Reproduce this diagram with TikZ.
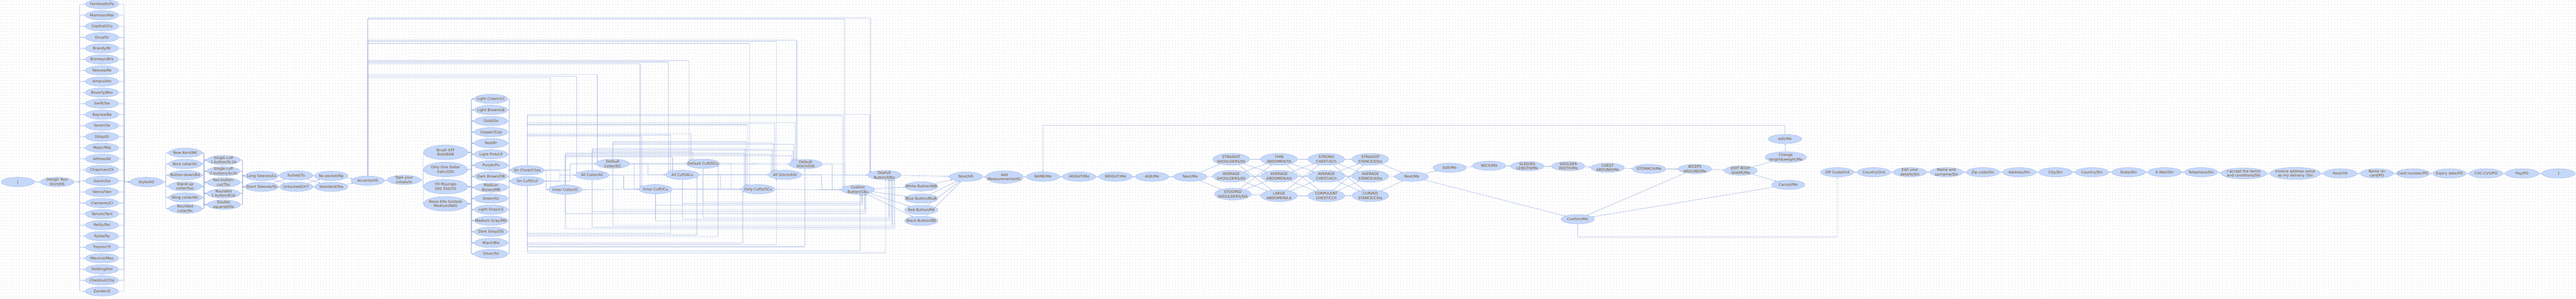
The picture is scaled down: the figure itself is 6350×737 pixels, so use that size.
\documentclass[tikz,border=0pt]{standalone}
\usepackage{fontspec}
\setmainfont{DejaVu Sans}
\usetikzlibrary{shapes.geometric,arrows.meta,calc,backgrounds}
\definecolor{nfill}{RGB}{198,216,250}
\definecolor{nborder}{RGB}{158,182,230}
\definecolor{ntext}{RGB}{122,78,20}
\definecolor{ecol}{RGB}{158,178,222}
\definecolor{dotc}{RGB}{205,205,205}
\newcommand\lb[1]{\smash{\makebox[0pt]{\raisebox{-3.3pt}{\begin{tabular}{@{}c@{}}#1\end{tabular}}}}}
\newcommand\TE[5]{%
  \draw[e] let \p1=(#1.center), \p2=(#4.center) in
    ({\x1+(#2)*1pt},{\y1+11.5pt*sqrt(1-((#2)/41)^2)})
    |- ({\x2+(#5)*1pt},{-(#3)*1pt})
    -- ({\x2+(#5)*1pt},{\y2+11.5pt*sqrt(1-((#5)/41)^2)});}
\newcommand\BE[5]{%
  \draw[e] let \p1=(#1.center), \p2=(#4.center) in
    ({\x1+(#2)*1pt},{\y1-11.5pt*sqrt(1-((#2)/41)^2)})
    |- ({\x2+(#5)*1pt},{-(#3)*1pt})
    -- ({\x2+(#5)*1pt},{\y2-11.5pt*sqrt(1-((#5)/41)^2)});}
\tikzset{
  st/.style={ellipse, draw=nborder, fill=nfill, line width=0.7pt, minimum width=82pt, minimum height=23pt, inner sep=0pt, text=ntext, font=\fontsize{9}{11}\selectfont},
  big/.style={st, minimum width=109pt, minimum height=36pt},
  mid/.style={st, minimum width=90pt, minimum height=29pt},
  e/.style={draw=ecol, line width=0.75pt, rounded corners=2pt, -{Stealth[length=4pt,width=3.4pt]}},
}
\begin{document}
\begin{tikzpicture}[x=1pt,y=-1pt]
\useasboundingbox (0,0) rectangle (6350,737);
\coordinate (top309) at (0,309);
\coordinate (bot585) at (0,585);
% ---------------- nodes ----------------
\node[st] (Start) at (44,449) {\lb{[}};
\node[st] (Design) at (141,449) {\lb{Design Your\\Shirt/HS}};
\foreach \t [count=\k from 0] in {Fernheath/Fe,Marmion/Mar,Copthall/Co,Orca/Or,Brandy/Br,Bronwyn/Bro,Reeves/Re,Amani/Am,Beverly/Bev,Swift/Sw,Baynes/Ba,Seren/Se,Dillip/Di,Major/Maj,Althea/Alt,Chapman/Ch,Gavin/Ga,Vance/Van,Clements/Cl,Tamzin/Tam,Reilly/Rei,Rylee/Ry,Traynor/Tr,Maurice/Mau,Holding/Hol,Chestnut/Che,Zander/Z}
  \node[st] (N\k) at (251.5,{10.3+27.26*\k}) {\lb{\t}};
\node[st] (Style) at (361,449) {\lb{Style/HS}};
\foreach \t [count=\k from 0] in {New Kent/NK,Kent collar/Kc,Button-down/Bd,{Stand-up\\collar/Suc},Wing collar/Wc,{Rounded\\collar/Rc}}
  \node[st] (C\k) at (456.5,{377+27.6*\k}) {\lb{\t}};
\foreach \t [count=\k from 0] in {{Single cuff\\1 button/Sc1b},{Single cuff\\2 buttons/Sc2b},{Two-button-\\cut/Tbc},{Rounded\\1 button/R1b},{Double\\squared/Ds}}
  \node[st] (K\k) at (551,{395+27.5*\k}) {\lb{\t}};
\node[st] (Ls) at (645,434) {\lb{Long Sleeves/Ls}};
\node[st] (Ss) at (645,461) {\lb{Short Sleeves/Ss}};
\node[st] (Tu) at (730,433) {\lb{Tucked/Tu}};
\node[st] (UnT) at (730,461) {\lb{Untucked/UnT}};
\node[st] (Np) at (816.6,434) {\lb{No pocket/Np}};
\node[st] (Sta) at (816.6,461) {\lb{Standard/Sta}};
\node[st] (Acc) at (906.5,446) {\lb{Accents/HS}};
\node[st] (TypeIn) at (996,444) {\lb{Type your\\initials/In}};
\foreach \t [count=\k from 0] in {{Brush ATF\\Bold/BAB},{Only One Dollar\\Italic/ODI},{YD Myungjo\\500 550/YD},{Neue Alte Grotesk\\Medium/NAG}}
  \node[big] (F\k) at (1098.5,{376+42.33*\k}) {\lb{\t}};
\foreach \t [count=\k from 0] in {Light Cream/LC,Light Brown/LB,Gold/Go,Copper/Cop,Red/Rr,Light Pink/LP,Purple/Pu,Dark Brown/DB,{Medium\\Brown/MB},Green/Gr,Light Gray/LG,Medium Gray/MG,Dark Gray/DG,Black/Bla,Silver/Sil}
  \node[st] (Col\k) at (1210.5,{244+27.33*\k}) {\lb{\t}};
\node[st] (OnChes) at (1300,420) {\lb{On Chest/Ches}};
\node[st] (OnCuf) at (1300,447) {\lb{On Cuff/Cuf}};
\node[st] (InColl) at (1393.5,468) {\lb{Inner Collar/IC}};
\node[st] (AllColl) at (1460,432) {\lb{All Collar/AC}};
\node[st] (DefColl) at (1510.5,404) {\lb{Default\\Collar/DC}};
\node[st] (InCuff) at (1616,467) {\lb{Inner Cuff/ICu}};
\node[st] (AllCuff) at (1682,431.5) {\lb{All Cuff/ACu}};
\node[st] (DefCuff) at (1733,404) {\lb{Default Cuff/DCu}};
\node[st] (OnlyCuffs) at (1869,467) {\lb{Only Cuffs/OCu}};
\node[st] (AllStitch) at (1935,431.5) {\lb{All Stitch/ASt}};
\node[st] (DefStitch) at (1986,405) {\lb{Default\\Stitch/DSt}};
\node[st] (CustBut) at (2115,468) {\lb{Custom\\Button/CBu}};
\node[st] (DefBut) at (2180,432) {\lb{Deafult\\Button/DBu}};
\node[st] (WB) at (2271,460) {\lb{White Button/WB}};
\node[st] (BluB) at (2271,490) {\lb{Blue Button/BluB}};
\node[st] (RB) at (2271,518) {\lb{Red Button/RB}};
\node[st] (BB) at (2271,545) {\lb{Black Button/BB}};
\node[st] (NextHS) at (2381,436) {\lb{Next/HS}};
\node[st, minimum width=93pt, minimum height=31pt] (AddMeas) at (2476,437) {\lb{Add\\Measurements/HC}};
\node[st] (NAME) at (2571,436) {\lb{NAME/Me}};
\node[st] (HEIGHT) at (2660,436) {\lb{HEIGHT/Me}};
\node[st] (WEIGHT) at (2750,436) {\lb{WEIGHT/Me}};
\node[st] (AGE) at (2840,436) {\lb{AGE/Me}};
\node[st] (NextMe) at (2934,436) {\lb{Next/Me}};
\node[mid] (SS) at (3035,393) {\lb{STRAIGHT\\SHOULDERS/SS}};
\node[mid] (AS) at (3035,435) {\lb{AVERAGE\\SHOULDERS/AS}};
\node[mid] (StS) at (3039,479) {\lb{STOOPED\\SHOULDERS/StS}};
\node[mid] (TA) at (3153,393) {\lb{THIN\\ABDOMEN/TA}};
\node[mid] (AA) at (3153,435) {\lb{AVERAGE\\ABDOMEN/AA}};
\node[mid] (LA) at (3153,483) {\lb{LARGE\\ABDOMEN/LA}};
\node[mid] (SCh) at (3269.5,393) {\lb{STRONG\\CHEST/SCh}};
\node[mid] (ACh) at (3269.5,435) {\lb{AVERAGE\\CHEST/ACh}};
\node[mid] (CCh) at (3269.5,483) {\lb{CORPULENT\\CHEST/CCh}};
\node[mid] (SSta) at (3378,393) {\lb{STRAIGHT\\STANCE/SSta}};
\node[mid] (ASta) at (3378,435) {\lb{AVERAGE\\STANCE/ASta}};
\node[mid] (CSta) at (3378,483) {\lb{CURVED\\STANCE/CSta}};
\node[st] (NextMeB) at (3480,436) {\lb{Next/Me}};
\node[st] (EditMe) at (3573.5,414) {\lb{Edit/Me}};
\node[st] (NECK) at (3671,409) {\lb{NECK/Me}};
\node[st] (SLEEVES) at (3765,410) {\lb{SLEEVES\\LENGTH/Me}};
\node[st] (SHOLDER) at (3866,410) {\lb{SHOLDER\\WIDTH/Me}};
\node[st] (CHESTA) at (3963,414) {\lb{CHEST\\AROUND/Me}};
\node[st] (STOMACH) at (4065,417) {\lb{STOMACH/Me}};
\node[st] (BICEPS) at (4178,417) {\lb{BICEPS\\AROUND/Me}};
\node[st] (EBS) at (4291,421) {\lb{EDIT BODY\\SHAPE/Me}};
\node[st, minimum width=102pt, minimum height=27pt] (ChangeHW) at (4402,388) {\lb{Change\\height\&weight/Me}};
\node[st] (editMe) at (4400,343) {\lb{edit/Me}};
\node[st] (Cancel) at (4408,456) {\lb{Cancel/Me}};
\node[st] (Confirm) at (3889,541) {\lb{Confirm/Me}};
\node[st] (ZIP) at (4529,425) {\lb{ZIP Code/Ord}};
\node[st] (CountryOrd) at (4619,425) {\lb{Country/Ord}};
\node[st] (EditDet) at (4708,425) {\lb{Edit your\\details/Shi}};
\node[st] (NameSur) at (4798,425) {\lb{Name and\\surname/Shi}};
\node[st] (ZipShi) at (4888,425) {\lb{Zip code/Shi}};
\node[st] (Address) at (4977.5,425) {\lb{Address/Shi}};
\node[st] (City) at (5067,425) {\lb{City/Shi}};
\node[st] (CountryShi) at (5157,425) {\lb{Country/Shi}};
\node[st] (State) at (5247,425) {\lb{State/Shi}};
\node[st] (EMail) at (5336,425) {\lb{E-Mail/Shi}};
\node[st] (Tel) at (5426,425) {\lb{Telephone/Shi}};
\node[st, minimum width=113pt, minimum height=27pt] (Accept) at (5531,428) {\lb{I accept the terms\\and conditions/Shi}};
\node[st, minimum width=124pt, minimum height=30pt] (Invoice) at (5658,428) {\lb{Invoice address same\\as my delivery /Shi}};
\node[st] (NextHSB) at (5769,428) {\lb{Next/HS}};
\node[st] (NameCard) at (5859,428) {\lb{Name on\\card/PO}};
\node[st] (CardNum) at (5948,428) {\lb{Card number/PO}};
\node[st] (Expiry) at (6038,428) {\lb{Expiry date/PO}};
\node[st] (CVC) at (6128,428) {\lb{CVC-CVV/PO}};
\node[st] (Pay) at (6217,428) {\lb{Pay/PO}};
\node[st] (End) at (6307,428) {\lb{]}};
% ---------------- background, grid and connectors ----------------
\begin{pgfonlayer}{background}
\fill[white] (0,0) rectangle (6350,737);
\foreach \r in {0,...,97}
  \draw[dotc, line width=1pt, dash pattern=on 1pt off 6.5pt] (2,{3.5+7.5*\r}) -- (6350,{3.5+7.5*\r});
\draw[e] (Start) -- (Design);
\foreach \k in {0,...,26} {
  \draw[e] (Design.east) -- ++(14,0) |- (N\k.west);
  \draw[e] (N\k.east) -- ++(13,0) |- (Style.west);
}
\foreach \k in {0,...,5} \draw[e] (Style.east) -- ++(6.5,0) |- (C\k.west);
\foreach \i in {0,...,5} \foreach \j in {0,...,4} \draw[e] (C\i.east) -- ++(5,0) |- (K\j.west);
\foreach \j in {0,...,4} {
  \draw[e] (K\j.east) -- ++(5.5,0) |- (Ls.west);
  \draw[e] (K\j.east) -- ++(5.5,0) |- (Ss.west);
}
\draw[e] (Ls) -- (Tu); \draw[e] (Ls) -- (UnT); \draw[e] (Ss) -- (Tu); \draw[e] (Ss) -- (UnT);
\draw[e] (Tu) -- (Np); \draw[e] (Tu) -- (Sta); \draw[e] (UnT) -- (Np); \draw[e] (UnT) -- (Sta);
\draw[e] (Np) -- (Acc); \draw[e] (Sta) -- (Acc);
\draw[e] (Acc) -- (TypeIn);
\foreach \k in {0,...,3} \draw[e] (TypeIn.east) -- ++(5.5,0) |- (F\k.west);
\foreach \i in {0,...,3} \foreach \j in {0,...,14} \draw[e] (F\i.east) -- ++(8.5,0) |- (Col\j.west);
\foreach \j in {0,...,14} {
  \draw[e] (Col\j.east) -- ++(3.5,0) |- (OnChes.west);
  \draw[e] (Col\j.east) -- ++(3.5,0) |- (OnCuf.west);
}
% position -> collar
\draw[e] (OnChes.east) -- ++(5,0) |- (InColl.west);
\draw[e] (OnCuf.east) -- ++(5,0) |- (InColl.west);
\draw[e] (OnChes.east) -- ++(38,0) |- (AllColl.west);
\draw[e] (OnCuf.east) -- ++(38,0) |- (AllColl.west);
\draw[e] (OnChes.east) -- ++(64,0) |- (DefColl.west);
\draw[e] (OnCuf.east) -- ++(64,0) |- (DefColl.west);
% collar -> cuff
\draw[e] (InColl.east) -- (InCuff.west);
\draw[e] (AllColl.east) -- (AllCuff.west);
\draw[e] (DefColl.east) -- (DefCuff.west);
\draw[e] (AllColl.east) -- ++(36,0) |- (InCuff.west);
\draw[e] (DefColl.east) -- ++(11.5,0) |- (InCuff.west);
\draw[e] (DefColl.east) -- ++(45,0) |- (AllCuff.west);
% cuff -> stitch
\draw[e] (InCuff.east) -- (OnlyCuffs.west);
\draw[e] (AllCuff.east) -- (AllStitch.west);
\draw[e] (DefCuff.east) -- (DefStitch.west);
\draw[e] (AllCuff.east) -- ++(52.5,0) |- (OnlyCuffs.west);
\draw[e] (DefCuff.east) -- ++(28,0) |- (OnlyCuffs.west);
% stitch -> button
\draw[e] (OnlyCuffs.east) -- (CustBut.west);
\draw[e] (AllStitch.east) -- (DefBut.west);
\draw[e] (AllStitch.east) -- ++(49,0) |- (CustBut.west);
\draw[e] (DefStitch.east) -- ++(24,0) |- (CustBut.west);
\draw[e] (DefStitch.east) -- ++(55,0) |- (DefBut.west);
% skip connectors from Accents
\TE{Acc}{0}{192}{InColl}{-37}
\TE{Acc}{0}{188}{AllColl}{-38}
\TE{Acc}{0}{184}{DefColl}{-38}
\TE{Acc}{0}{157}{InCuff}{-38}
\TE{Acc}{0}{153}{AllCuff}{-34}
\TE{Acc}{0}{149.5}{DefCuff}{-34}
\TE{Acc}{0}{107}{OnlyCuffs}{-21}
\TE{Acc}{0}{102}{AllStitch}{-21}
\TE{Acc}{0}{99}{DefStitch}{-22}
\TE{Acc}{0}{47}{CustBut}{-33}
\TE{Acc}{0}{44.5}{DefBut}{-34}
% skip connectors over the top
\TE{OnChes}{0}{282}{DefBut}{-36}
\TE{OnChes}{0}{285}{CustBut}{-37}
\TE{OnChes}{0}{302}{DefStitch}{-26}
\TE{OnChes}{0}{305}{AllStitch}{-25}
\TE{OnChes}{0}{308}{OnlyCuffs}{-26}
\TE{OnChes}{0}{330}{DefCuff}{-30}
\TE{OnChes}{0}{333}{AllCuff}{-29}
\TE{OnChes}{0}{336}{InCuff}{-34}
\TE{DefColl}{0}{350}{OnlyCuffs}{-29}
\TE{DefColl}{0}{353}{AllStitch}{-28}
\TE{DefColl}{0}{356}{DefStitch}{-29}
\TE{AllColl}{0}{366}{OnlyCuffs}{-32}
\TE{AllColl}{0}{369}{AllStitch}{-31}
\TE{AllColl}{0}{372}{DefStitch}{-31}
\TE{AllColl}{0}{375}{DefCuff}{-25}
\TE{InColl}{0}{378}{OnlyCuffs}{-35}
\TE{InColl}{0}{381}{AllStitch}{-34}
\TE{InColl}{0}{384}{DefStitch}{-34}
\TE{InColl}{0}{387}{AllCuff}{-24}
% skip connectors underneath
\BE{OnCuf}{0}{576}{InCuff}{37}
\BE{OnCuf}{0}{580}{AllCuff}{36}
\BE{OnCuf}{0}{584}{DefCuff}{37}
\BE{OnCuf}{0}{600}{OnlyCuffs}{-38}
\BE{OnCuf}{0}{604}{AllStitch}{-21}
\BE{OnCuf}{0}{609}{DefStitch}{-2}
\BE{OnCuf}{0}{619}{CustBut}{5}
\BE{OnCuf}{0}{624}{DefBut}{3}
\BE{InColl}{0}{527}{CustBut}{20}
\BE{InColl}{0}{565}{DefBut}{25}
\BE{AllColl}{0}{522}{CustBut}{18}
\BE{AllColl}{0}{561}{DefBut}{22}
\BE{DefColl}{0}{518}{CustBut}{16}
\BE{DefColl}{0}{556}{DefBut}{19}
\BE{InCuff}{0}{506}{CustBut}{12}
\BE{InCuff}{0}{545}{DefBut}{16}
\BE{AllCuff}{0}{502}{CustBut}{10}
\BE{AllCuff}{0}{541}{DefBut}{13}
\BE{DefCuff}{0}{498}{CustBut}{8}
\BE{DefCuff}{0}{537}{DefBut}{10}
% buttons
\foreach \b in {WB,BluB,RB,BB} { \draw[e] (CustBut) -- (\b); \draw[e] (\b) -- (NextHS); }
\draw[e] (DefBut) -- (NextHS);
% measurements
\draw[e] (NextHS) -- (AddMeas);
\draw[e] (AddMeas) -- (NAME);
\draw[e] (NAME) -- (HEIGHT);
\draw[e] (HEIGHT) -- (WEIGHT);
\draw[e] (WEIGHT) -- (AGE);
\draw[e] (AGE) -- (NextMe);
\foreach \b in {SS,AS,StS} \draw[e] (NextMe) -- (\b);
\foreach \a in {SS,AS,StS} \foreach \b in {TA,AA,LA} \draw[e] (\a) -- (\b);
\foreach \a in {TA,AA,LA} \foreach \b in {SCh,ACh,CCh} \draw[e] (\a) -- (\b);
\foreach \a in {SCh,ACh,CCh} \foreach \b in {SSta,ASta,CSta} \draw[e] (\a) -- (\b);
\foreach \a in {SSta,ASta,CSta} \draw[e] (\a) -- (NextMeB);
\draw[e] (NextMeB) -- (EditMe);
\draw[e] (NextMeB) -- (Confirm);
\draw[e] (EditMe) -- (NECK);
\draw[e] (NECK) -- (SLEEVES);
\draw[e] (SLEEVES) -- (SHOLDER);
\draw[e] (SHOLDER) -- (CHESTA);
\draw[e] (CHESTA) -- (STOMACH);
\draw[e] (STOMACH) -- (BICEPS);
\draw[e] (BICEPS) -- (EBS);
\draw[e] (BICEPS) -- (Confirm);
\draw[e] (EBS) -- (ChangeHW);
\draw[e] (EBS) -- (Cancel);
\draw[e] (ChangeHW) -- (editMe);
\draw[e] (Cancel) -- (Confirm);
\draw[e] (editMe.north) |- (NAME.north |- top309) -- (NAME.north);
\draw[e] (Confirm.south) |- (ZIP.south |- bot585) -- (ZIP.south);
% order and payment chain
\draw[e] (ZIP) -- (CountryOrd);
\draw[e] (CountryOrd) -- (EditDet);
\draw[e] (EditDet) -- (NameSur);
\draw[e] (NameSur) -- (ZipShi);
\draw[e] (ZipShi) -- (Address);
\draw[e] (Address) -- (City);
\draw[e] (City) -- (CountryShi);
\draw[e] (CountryShi) -- (State);
\draw[e] (State) -- (EMail);
\draw[e] (EMail) -- (Tel);
\draw[e] (Tel) -- (Accept);
\draw[e] (Accept) -- (Invoice);
\draw[e] (Invoice) -- (NextHSB);
\draw[e] (NextHSB) -- (NameCard);
\draw[e] (NameCard) -- (CardNum);
\draw[e] (CardNum) -- (Expiry);
\draw[e] (Expiry) -- (CVC);
\draw[e] (CVC) -- (Pay);
\draw[e] (Pay) -- (End);
\end{pgfonlayer}
\end{tikzpicture}
\end{document}
